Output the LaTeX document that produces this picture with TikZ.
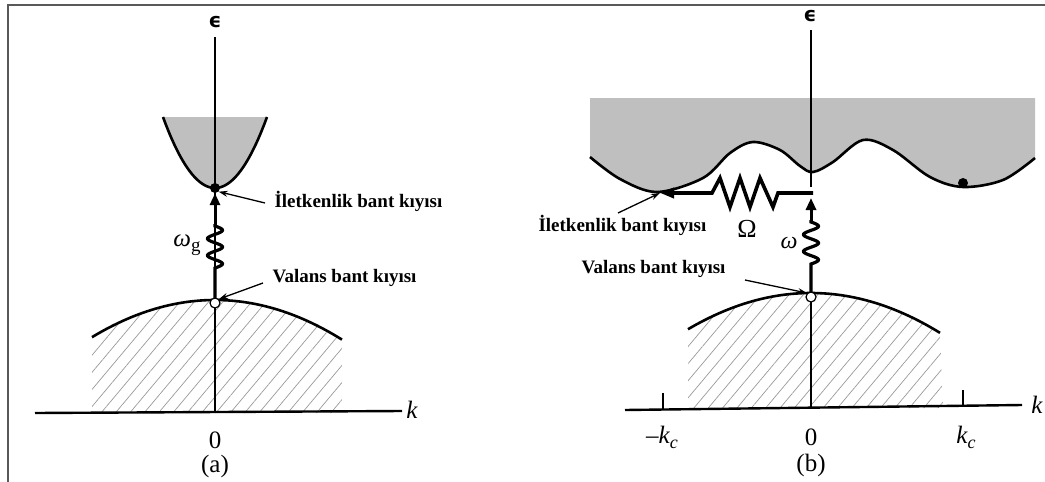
\documentclass[tikz,border=0pt]{standalone}
\usepackage{fontspec}
\setmainfont{Liberation Serif}
\newfontfamily\dejavu{DejaVu Sans}
\usetikzlibrary{arrows.meta,patterns.meta}
\tikzset{
  band/.style={line width=2.6pt},
  axisv/.style={line width=1.3pt},
  axish/.style={line width=2.4pt},
  thick arrow/.style={line width=3pt,-{Triangle[length=12pt,width=10pt]}},
  pointer/.style={line width=1.3pt,-{Stealth[length=9pt,width=6pt]}},
  lbl/.style={font={\fontsize{19}{21}\selectfont\bfseries}},
  ax/.style={font={\fontsize{25}{27}\selectfont}},
  axi/.style={font={\fontsize{25}{27}\selectfont\itshape}},
  epsl/.style={font={\fontsize{20}{22}\selectfont\dejavu\bfseries}},
  hatch/.style={pattern={Lines[angle=50,distance=11pt,line width=0.7pt]},pattern color=gray!80},
  conduction/.style={fill=gray!50},
}
\def\bcurve{(590,157) (620,179) (657,192) (703,178) (730,153) (753,142) (780,150) (800,166) (813,172) (833,162) (863,140) (893,150) (930,177) (963,187) (1003,180) (1035,158)}
\begin{document}
\begin{tikzpicture}[x=1pt,y=-1pt]
\useasboundingbox (0,0) rectangle (1045,482);
% frame
\draw[gray!70!black,line width=1.6pt] (8,482) -- (8,5) -- (1045,5);

% ================= panel (a) =================
\coordinate (aTop) at (215,37);
\coordinate (aBot) at (215,413);
\node[epsl] (aeps) at (215,22) {ϵ};
% conduction band
\fill[conduction] (163,117) -- plot[domain=-52:52,samples=60] ({215+\x},{188-71*(\x/52)^2}) -- cycle;
\draw[band] plot[domain=-52:52,samples=60] ({215+\x},{188-71*(\x/52)^2});
% valence band
\fill[hatch] (92,338) -- plot[domain=-123:127,samples=60] ({215+\x},{300+0.00245*\x*\x}) -- (342,413) -- (92,413) -- cycle;
\draw[band] plot[domain=-123:127,samples=60] ({215+\x},{300+0.00245*\x*\x});
% axes
\draw[axisv] (aTop) -- (aBot);
\coordinate (akL) at (35,413);
\coordinate (akR) at (402,411);
\draw[axish] (akL) -- (akR);
\node[axi] (ak) at (412,410) {k};
\node[ax] (a0) at (215,440) {0};
\node[ax] (acap) at (215,466) {(a)};
% edges
\node[circle,fill=black,inner sep=0pt,minimum size=10pt] (aCB) at (215,188) {};
% transition
\coordinate (aS) at (215,298);
\draw[line width=3.2pt] (aS) -- (215,268)
  -- plot[domain=0:1,samples=50] ({215+7.5*sin(2.5*360*\x)},{268-42*\x}) -- (215,224);
\draw[thick arrow] (215,226) -- (aCB.south);
\node[circle,draw=black,line width=1.2pt,fill=white,inner sep=0pt,minimum size=10pt] (aVB) at (215,303) {};
\node[axi] (aw) at (187,245) {ω\raisebox{-5pt}{\fontsize{19}{21}\selectfont\upshape g}};
% labels
\node[lbl,anchor=west] (aCBl) at (271,201) {İletkenlik bant kıyısı};
\node[lbl,anchor=west] (aVBl) at (269,278) {Valans bant kıyısı};
\draw[pointer] (265,203) -- (aCB.south east);
\draw[pointer] (263,283) -- (aVB.north east);

% ================= panel (b) =================
\node[epsl] (beps) at (810,16) {ϵ};
% conduction band region
\fill[conduction] (590,98) -- plot[smooth,tension=0.55] coordinates {\bcurve} -- (1035,98) -- cycle;
\draw[band] plot[smooth,tension=0.55] coordinates {\bcurve};
\node[circle,fill=black,inner sep=0pt,minimum size=10pt] (bDot) at (963,183) {};
% valence band
\fill[hatch] (688,332) -- plot[domain=-123:129,samples=60] ({811+\x},{293+0.0024*\x*\x}) -- (943,408) -- (688,408) -- cycle;
\draw[band] plot[domain=-123:129,samples=60] ({811+\x},{293+0.0024*\x*\x});
% axes
\coordinate (bTop) at (811,30);
\coordinate (bMid) at (811,187);
\coordinate (bBot) at (811,408);
\draw[axisv] (bTop) -- (bMid);
\draw[axisv] (811,297) -- (bBot);
\coordinate (bkL) at (625,410);
\coordinate (bkR) at (1022,405);
\draw[axish] (bkL) -- (bkR);
\draw[line width=1.5pt] (663,409) -- (663,393);
\draw[line width=1.5pt] (963,406) -- (963,390);
\node[axi] (bk) at (1037,405) {k};
\node[ax] (bmkc) at (662,437) {–\textit{k}\raisebox{-5pt}{\fontsize{18}{20}\selectfont\itshape c}};
\node[ax] (b0) at (811,437) {0};
\node[ax] (bkc) at (966,437) {\textit{k}\raisebox{-5pt}{\fontsize{18}{20}\selectfont\itshape c}};
\node[ax] (bcap) at (811,465) {(b)};
% transitions
\coordinate (bS) at (811,293);
\coordinate (bCB) at (660,193);
\draw[line width=3.2pt] (bS) -- (811,264)
  -- plot[domain=0:1,samples=50] ({811+7.5*sin(2.5*360*\x)},{264-42*\x}) -- (811,220);
\draw[thick arrow] (811,222) -- (811,198);
\draw[line width=3.6pt,line join=miter,-{Triangle[length=14pt,width=10pt]}] (813,193) -- (778,193) -- (773,207) -- (760,178) -- (750,207) -- (740,178) -- (730,207) -- (720,178) -- (712,193) -- (bCB);
\node[circle,draw=black,line width=1.2pt,fill=white,inner sep=0pt,minimum size=10pt] (bVB) at (811,297) {};
\node[font={\fontsize{26}{28}\selectfont}] (bOm) at (747,229) {Ω};
\node[font={\fontsize{24}{26}\selectfont\itshape}] (bw) at (789,243) {ω};
% labels
\node[lbl,anchor=west] (bCBl) at (535,225) {İletkenlik bant kıyısı};
\node[lbl,anchor=west] (bVBl) at (578,269) {Valans bant kıyısı};
\draw[pointer] (618,213) -- (bCB);
\draw[pointer] (745,280) -- (bVB.north west);
\end{tikzpicture}
\end{document}
